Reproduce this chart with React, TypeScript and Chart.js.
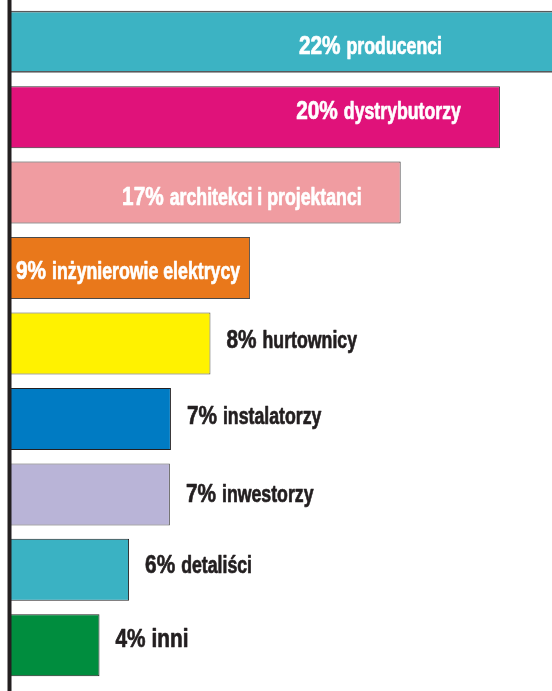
import React, { useEffect, useRef } from "react";
import { Chart, registerables } from "chart.js";

Chart.register(...registerables);

const categories = [
  "producenci",
  "dystrybutorzy",
  "architekci i projektanci",
  "inżynierowie elektrycy",
  "hurtownicy",
  "instalatorzy",
  "inwestorzy",
  "detaliści",
  "inni",
];
const shareLabels = ["22%", "20%", "17%", "9%", "8%", "7%", "7%", "6%", "4%"];
// bar lengths as drawn in the picture (same unit as the 20% bar)
const barLengths = [23.5, 20.0, 15.94, 9.78, 8.16, 6.54, 6.5, 4.83, 3.62];
const barColors = [
  "#3cb3c3",
  "#e0127a",
  "#f09ca1",
  "#e9781b",
  "#fff200",
  "#007bc3",
  "#b9b4d7",
  "#3ab2c3",
  "#008d3e",
];
const borderColors = [
  "#58595b",
  "#333133",
  "#333133",
  "#4a4a4a",
  "#555555",
  "#231f20",
  "#555555",
  "#231f20",
  "#231f20",
];
const axisMax = 22.13;

const INK = "#231f20";
const FONT = "'Liberation Sans', Arial, sans-serif";

const labelPlugin = {
  id: "barLabels",
  afterDatasetsDraw(chart: any) {
    const ctx = chart.ctx as CanvasRenderingContext2D;
    const area = chart.chartArea;
    const meta = chart.getDatasetMeta(0);
    const insideCount = 4;
    const insideGap = [110, 39, 39, 39];
    const baseDy = [12, 2, 12, 10.5, 4, 5, 8, 3, 2];
    const pctSize = 26;
    const pctScale = 0.8;
    const nameSize = 23;
    const nameScale = 0.77;

    // axis line
    ctx.save();
    ctx.fillStyle = INK;
    ctx.fillRect(area.left - 3.5, 0, 4, chart.height);
    ctx.restore();

    meta.data.forEach((bar: any, i: number) => {
      const { x, y } = bar.getProps(["x", "y"], true);
      const pct = shareLabels[i];
      const name = categories[i];
      const bigName = i === categories.length - 1;
      const nSize = bigName ? pctSize : nameSize;
      const nScale = bigName ? pctScale : nameScale;

      ctx.save();
      ctx.font = `bold ${pctSize}px ${FONT}`;
      const wPct = ctx.measureText(pct).width * pctScale;
      ctx.font = `bold ${nSize}px ${FONT}`;
      const wName = ctx.measureText(name).width * nScale;
      const gap = 6;
      const total = wPct + gap + wName;

      let left: number;
      let color: string;
      if (i < insideCount) {
        const right = Math.min(x, area.right) - insideGap[i];
        left = Math.max(right - total, area.left + 5);
        color = "#ffffff";
      } else {
        left = x + 16;
        color = INK;
      }
      const baseline = y + baseDy[i];
      ctx.fillStyle = color;
      ctx.strokeStyle = color;
      ctx.lineWidth = 0.7;
      ctx.lineJoin = "round";
      ctx.textBaseline = "alphabetic";
      ctx.textAlign = "left";

      ctx.save();
      ctx.translate(left, baseline);
      ctx.scale(pctScale, 1);
      ctx.font = `bold ${pctSize}px ${FONT}`;
      ctx.fillText(pct, 0, 0);
      ctx.strokeText(pct, 0, 0);
      ctx.restore();

      ctx.save();
      ctx.translate(left + wPct + gap, baseline);
      ctx.scale(nScale, 1);
      ctx.font = `bold ${nSize}px ${FONT}`;
      ctx.fillText(name, 0, 0);
      ctx.strokeText(name, 0, 0);
      ctx.restore();

      ctx.restore();
    });
  },
};

export default function App() {
  const ref = useRef<HTMLCanvasElement | null>(null);

  useEffect(() => {
    if (!ref.current) return;
    const chart = new Chart(ref.current, {
      type: "bar",
      data: {
        labels: categories,
        datasets: [
          {
            data: barLengths,
            backgroundColor: barColors,
            borderColor: borderColors,
            borderWidth: (c: any) =>
              c.dataIndex === 0
                ? { top: 1.8, bottom: 1.8, left: 0, right: 0 }
                : 1,
            borderSkipped: (c: any) => (c.dataIndex === 0 ? false : "start"),
            categoryPercentage: 1,
            barPercentage: 0.822,
            clip: 0,
          },
        ],
      },
      options: {
        indexAxis: "y",
        responsive: true,
        maintainAspectRatio: false,
        animation: false,
        layout: { padding: { left: 11, right: 0, top: 4, bottom: 8 } },
        plugins: {
          legend: { display: false },
          tooltip: { enabled: false },
        },
        scales: {
          x: { display: false, min: 0, max: axisMax },
          y: { display: false },
        },
      },
      plugins: [labelPlugin],
    } as any);
    return () => chart.destroy();
  }, []);

  return (
    <div
      style={{
        position: "fixed",
        left: 0,
        top: 0,
        width: 552,
        height: 691,
        background: "#ffffff",
      }}
    >
      <canvas ref={ref} />
    </div>
  );
}
